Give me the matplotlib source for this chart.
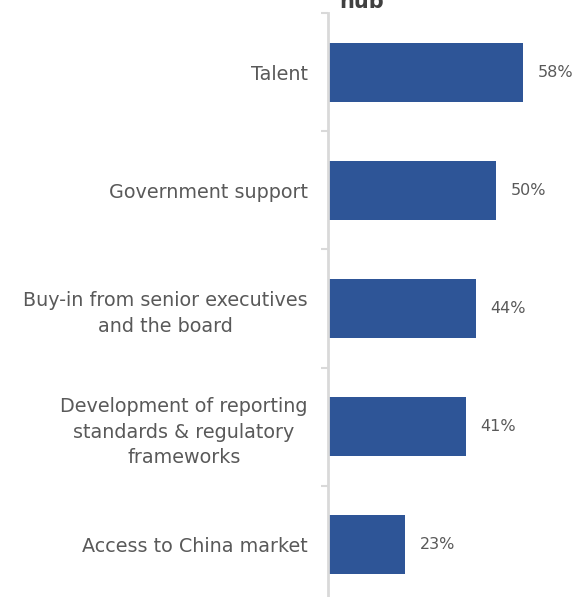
import matplotlib
matplotlib.use("Agg")
import matplotlib.pyplot as plt
import numpy as np

categories = [
    "Talent",
    "Government support",
    "Buy-in from senior executives\nand the board",
    "Development of reporting\nstandards & regulatory\nframeworks",
    "Access to China market",
]
values = [58, 50, 44, 41, 23]

bar_color = "#2e5597"
text_color = "#595959"

plt.rcParams["font.family"] = ["DejaVu Sans"]

fig = plt.figure(figsize=(5.87, 5.97), dpi=100)
ax = fig.add_axes([0.5588, -0.0117, 0.43, 0.9899])

y = np.arange(len(categories))
ax.barh(y, values, height=0.5, color=bar_color)
ax.set_ylim(len(categories) - 0.5, -0.5)
ax.set_xlim(0, 75)

for yi, v in zip(y, values):
    ax.text(v + 4.3, yi, "%d%%" % v, va="center", ha="left",
            fontsize=11.5, color=text_color)

# category labels sit left of the axis line, right aligned
ax.set_yticks(y)
ax.set_yticklabels(categories, fontsize=13.8, color=text_color,
                   linespacing=1.45, multialignment="center")
ax.tick_params(axis="y", length=0, pad=14.5)
ax.set_yticks(np.arange(len(categories) + 1) - 0.5, minor=True)
ax.tick_params(axis="y", which="minor", length=5, color="#d9d9d9", width=1.5)

ax.set_xticks([])
for side in ["top", "right", "bottom"]:
    ax.spines[side].set_visible(False)
ax.spines["left"].set_color("#d9d9d9")
ax.spines["left"].set_linewidth(2)

# last line of the chart title, top clipped by the figure edge
fig.text(0.578, 0.987, "hub", fontsize=15, fontweight="bold",
         color="#404040", ha="left", va="baseline")

fig.savefig("out.png", dpi=100)
